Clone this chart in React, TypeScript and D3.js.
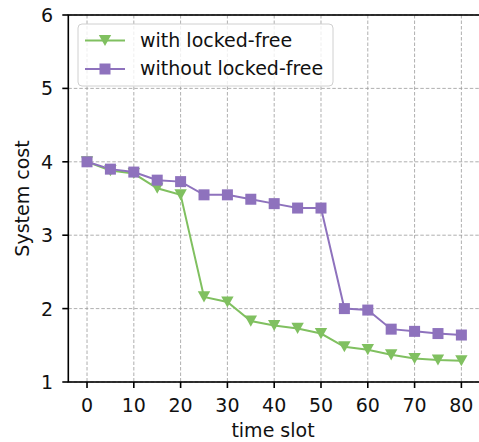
import React from "react";
import * as d3 from "d3";

// Time slots sampled every 5 units
const timeSlots = [0, 5, 10, 15, 20, 25, 30, 35, 40, 45, 50, 55, 60, 65, 70, 75, 80];
const withLockedFree = [4.0, 3.88, 3.84, 3.64, 3.55, 2.16, 2.09, 1.83, 1.77, 1.73, 1.66, 1.48, 1.44, 1.37, 1.32, 1.3, 1.29];
const withoutLockedFree = [4.0, 3.9, 3.86, 3.75, 3.73, 3.55, 3.55, 3.49, 3.43, 3.37, 3.37, 2.0, 1.98, 1.72, 1.69, 1.66, 1.64];
const xTicks = [0, 10, 20, 30, 40, 50, 60, 70, 80];
const yTicks = [1, 2, 3, 4, 5, 6];
const seriesNames = ["with locked-free", "without locked-free"];

const W = 479;
const H = 442;
const FONT = "DejaVu Sans, sans-serif";
const FS = 19;
const GREEN = "#80c060";
const PURPLE = "#8e72bd";

export default function App() {
  const x = d3.scaleLinear().domain([-4, 84]).range([68.3, 480.1]);
  const y = d3.scaleLinear().domain([1, 6]).range([382, 15]);
  const [x0, x1] = x.range();
  const [yb, yt] = y.range();

  const line = d3
    .line<number>()
    .x((_, i) => x(timeSlots[i]))
    .y((d) => y(d));

  const tri = (cx: number, cy: number, s = 6.2) =>
    `M${cx - s},${cy - s * 0.9}L${cx + s},${cy - s * 0.9}L${cx},${cy + s * 0.9}Z`;

  return (
    <svg
      width={W}
      height={H}
      style={{ position: "absolute", left: 0, top: 0, background: "#fff" }}
      fontFamily={FONT}
    >
      <defs>
        <clipPath id="plot">
          <rect x={x0} y={yt} width={x1 - x0} height={yb - yt} />
        </clipPath>
      </defs>

      {/* grid */}
      <g stroke="#9a9a9a" strokeWidth={0.8} strokeDasharray="3.5,2">
        {xTicks.map((t) => (
          <line key={"gx" + t} x1={x(t)} x2={x(t)} y1={yt} y2={yb} />
        ))}
        {yTicks.map((t) => (
          <line key={"gy" + t} x1={x0} x2={x1} y1={y(t)} y2={y(t)} />
        ))}
      </g>

      {/* series */}
      <g clipPath="url(#plot)">
        <path d={line(withLockedFree) || ""} fill="none" stroke={GREEN} strokeWidth={2} />
        {withLockedFree.map((v, i) => (
          <path key={"g" + i} d={tri(x(timeSlots[i]), y(v))} fill={GREEN} />
        ))}
        <path d={line(withoutLockedFree) || ""} fill="none" stroke={PURPLE} strokeWidth={2} />
        {withoutLockedFree.map((v, i) => (
          <rect
            key={"p" + i}
            x={x(timeSlots[i]) - 5.5}
            y={y(v) - 5.5}
            width={11}
            height={11}
            fill={PURPLE}
          />
        ))}
      </g>

      {/* spines */}
      <rect x={x0} y={yt} width={x1 - x0} height={yb - yt} fill="none" stroke="#000" strokeWidth={1.6} />

      {/* x axis */}
      {xTicks.map((t) => (
        <g key={"xt" + t}>
          <line x1={x(t)} x2={x(t)} y1={yb} y2={yb + 6} stroke="#000" strokeWidth={1.6} />
          <text x={x(t)} y={411.5} textAnchor="middle" fontSize={FS} fill="#111">
            {t}
          </text>
        </g>
      ))}
      <text x={273} y={437} textAnchor="middle" fontSize={FS} fill="#111">
        time slot
      </text>

      {/* y axis */}
      {yTicks.map((t) => (
        <g key={"yt" + t}>
          <line x1={x0 - 6} x2={x0} y1={y(t)} y2={y(t)} stroke="#000" strokeWidth={1.6} />
          <text x={53} y={y(t) + 7} textAnchor="end" fontSize={FS} fill="#111">
            {t}
          </text>
        </g>
      ))}
      <text
        transform={`translate(29,${(yt + yb) / 2}) rotate(-90)`}
        textAnchor="middle"
        fontSize={FS}
        fill="#111"
      >
        System cost
      </text>

      {/* legend */}
      <g>
        <rect x={78} y={24} width={255} height={62} rx={4} fill="#fff" fillOpacity={0.8} stroke="#d0d0d0" strokeWidth={1} />
        <line x1={85} x2={125} y1={40.5} y2={40.5} stroke={GREEN} strokeWidth={2} />
        <path d={tri(105, 40.5)} fill={GREEN} />
        <text x={140} y={46.5} fontSize={FS} fill="#111">
          {seriesNames[0]}
        </text>
        <line x1={85} x2={125} y1={69} y2={69} stroke={PURPLE} strokeWidth={2} />
        <rect x={99.5} y={63.5} width={11} height={11} fill={PURPLE} />
        <text x={140} y={75} fontSize={FS} fill="#111">
          {seriesNames[1]}
        </text>
      </g>
    </svg>
  );
}
